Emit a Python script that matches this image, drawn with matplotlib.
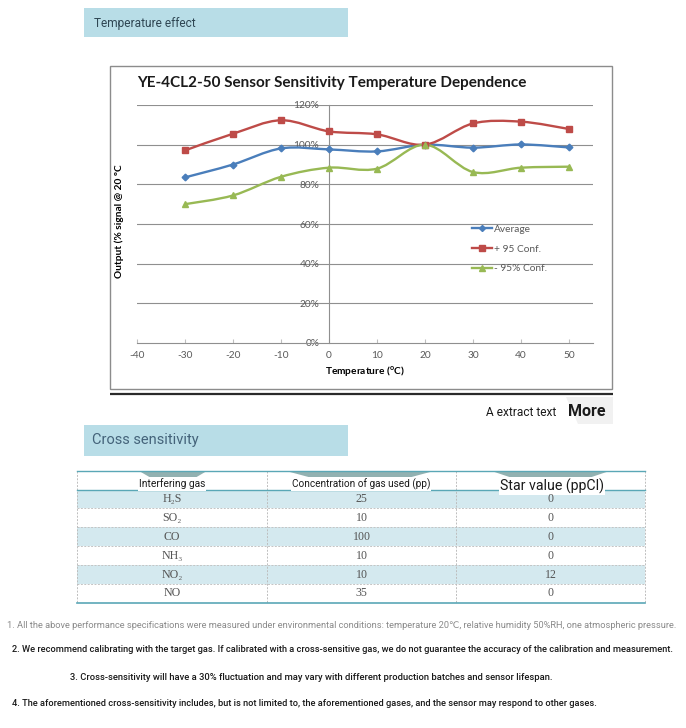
import matplotlib
matplotlib.use("Agg")
import matplotlib.pyplot as plt
from matplotlib.path import Path
from matplotlib.patches import PathPatch, Rectangle, Polygon
from matplotlib.lines import Line2D

plt.rcParams["axes.unicode_minus"] = False

# ---------------- data ----------------
temps = [-30, -20, -10, 0, 10, 20, 30, 40, 50]
average = [83.5, 90.0, 98.1, 97.6, 96.6, 100.0, 98.5, 100.1, 98.6]
upper_conf = [97.1, 105.5, 112.3, 106.7, 105.2, 100.0, 110.7, 111.6, 107.9]
lower_conf = [70.0, 74.4, 83.8, 88.4, 87.9, 100.0, 86.2, 88.4, 88.9]
series_labels = ["Average", "+ 95 Conf.", "- 95% Conf."]
x_ticks = [-40, -30, -20, -10, 0, 10, 20, 30, 40, 50]
y_ticks = [0, 20, 40, 60, 80, 100, 120]

gases = ["H\u2082S", "SO\u2082", "CO", "NH\u2083", "NO\u2082", "NO"]
gas_conc = ["25", "10", "100", "10", "10", "35"]
star_values = ["0", "0", "0", "0", "12", "0"]
table_headers = ["Interfering gas", "Concentration of gas used (pp)", "Star value (ppCl)"]

notes = [
    "1. All the above performance specifications were measured under environmental conditions: temperature 20\u2103, relative humidity 50%RH, one atmospheric pressure.",
    "2. We recommend calibrating with the target gas. If calibrated with a cross-sensitive gas, we do not guarantee the accuracy of the calibration and measurement.",
    "3. Cross-sensitivity will have a 30% fluctuation and may vary with different production batches and sensor lifespan.",
    "4. The aforementioned cross-sensitivity includes, but is not limited to, the aforementioned gases, and the sensor may respond to other gases.",
]

# ---------------- figure ----------------
W, H = 686, 728
fig = plt.figure(figsize=(W / 100, H / 100), dpi=100)
fig.patch.set_facecolor("white")
bg = fig.add_axes([0, 0, 1, 1])
bg.set_xlim(0, W)
bg.set_ylim(H, 0)
bg.axis("off")

NARROW = ["Roboto", "DejaVu Sans"]
renderer = fig.canvas.get_renderer()


def fit_text(s, x0, x1, y, ha="left", base=10, **kw):
    t = bg.text(x0 if ha == "left" else (x0 + x1) / 2, y, s, ha=ha, va="center",
                fontsize=base, **kw)
    bb = t.get_window_extent(renderer)
    t.set_fontsize(base * (x1 - x0) / bb.width)
    return t


# --- section header 1 ---
bg.add_patch(Rectangle((84, 8), 264, 29, facecolor="#b8dde7", edgecolor="none"))
bg.text(94, 23, "Temperature effect", ha="left", va="center", fontsize=8.6,
        family=NARROW, color="#2f4653")

# --- chart frame ---
bg.add_patch(Rectangle((109.5, 66), 502, 323, facecolor="white", edgecolor="#8c8c8c", lw=1))
bg.plot([110, 613], [394, 394], color="#2a2a2a", lw=1.6, solid_capstyle="butt")

# --- chart axes ---
ax = fig.add_axes([137 / W, 1 - 343 / H, 456 / W, 238 / H])
ax.set_facecolor("none")
ax.set_xlim(-40, 55)
ax.set_ylim(0, 120)
ax.set_xticks(x_ticks)
ax.set_yticks(y_ticks)
ax.set_yticklabels([f"{v}%" for v in y_ticks])
for v in y_ticks[1:]:
    ax.axhline(v, color="#8f8f8f", lw=0.8, zorder=0)
for s in ["top", "right"]:
    ax.spines[s].set_visible(False)
ax.spines["left"].set_position(("data", 0))
ax.spines["left"].set_color("#8f8f8f")
ax.spines["left"].set_linewidth(0.8)
ax.spines["bottom"].set_color("#8f8f8f")
ax.spines["bottom"].set_linewidth(0.8)
TICKFONT = ["Lato", "DejaVu Sans"]
ax.tick_params(axis="y", length=0, pad=7, labelsize=7.3, labelcolor="#595959")
ax.tick_params(axis="x", direction="in", length=3, color="#bfbfbf", pad=6,
               labelsize=7.3, labelcolor="#595959")
for lab in ax.get_xticklabels() + ax.get_yticklabels():
    lab.set_family(TICKFONT)

colors = ["#4a7ebb", "#be4b48", "#98b954"]
markers = ["D", "s", "^"]
msizes = [3.4, 4.6, 5.0]


def smooth_path(xs, ys):
    verts = [(xs[0], ys[0])]
    codes = [Path.MOVETO]
    n = len(xs)
    for i in range(n - 1):
        p0 = (xs[max(i - 1, 0)], ys[max(i - 1, 0)])
        p1 = (xs[i], ys[i])
        p2 = (xs[i + 1], ys[i + 1])
        p3 = (xs[min(i + 2, n - 1)], ys[min(i + 2, n - 1)])
        c1 = (p1[0] + (p2[0] - p0[0]) / 6, p1[1] + (p2[1] - p0[1]) / 6)
        c2 = (p2[0] - (p3[0] - p1[0]) / 6, p2[1] - (p3[1] - p1[1]) / 6)
        verts += [c1, c2, p2]
        codes += [Path.CURVE4] * 3
    return Path(verts, codes)


for ys, c, m, ms in [(average, colors[0], markers[0], msizes[0]),
                     (upper_conf, colors[1], markers[1], msizes[1]),
                     (lower_conf, colors[2], markers[2], msizes[2])]:
    ax.add_patch(PathPatch(smooth_path(temps, ys), facecolor="none", edgecolor=c,
                           lw=1.7, zorder=3, capstyle="round", joinstyle="round"))
    ax.plot(temps, ys, ls="none", marker=m, ms=ms, color=c, zorder=4)

handles = [Line2D([], [], color=c, marker=m, ms=ms * 0.9, lw=1.7)
           for c, m, ms in zip(colors, markers, msizes)]
leg = ax.legend(handles, series_labels, loc="center left",
                bbox_to_anchor=((472 - 137) / 456, (343 - 249) / 238),
                frameon=False, handlelength=2.0, handletextpad=0.15,
                labelspacing=1.05, borderpad=0, borderaxespad=0,
                prop={"family": TICKFONT, "size": 7.3})
for t in leg.get_texts():
    t.set_color("#595959")

ax.set_xlabel("Temperature ($^\\mathregular{o}$C)", family=TICKFONT, fontsize=7.3,
              fontweight="bold", labelpad=3)
ax.set_ylabel("Output (% signal @ 20 \u00baC", family=TICKFONT, fontsize=7.3,
              fontweight="bold")
ax.yaxis.set_label_coords((124 - 137) / 456, (343 - 221) / 238)

fit_text("YE-4CL2-50 Sensor Sensitivity Temperature Dependence", 137, 527, 83,
         family=TICKFONT, fontweight="bold", color="#1a1a1a")

# --- "A extract text  More" ---
bg.add_patch(Polygon([[566, 397], [613, 397], [613, 424], [578, 424]],
                     closed=True, facecolor="#f1f1f1", edgecolor="none"))
bg.text(556, 412, "A extract text", ha="right", va="center", fontsize=8.6,
        family=NARROW, color="#1a1a1a")
bg.text(568, 411, "More", ha="left", va="center", fontsize=11.5,
        family=NARROW, fontweight="bold", color="#1a1a1a")

# --- section header 2 ---
bg.add_patch(Rectangle((84, 425), 264, 31, facecolor="#b8dde7", edgecolor="none"))
bg.text(92, 440, "Cross sensitivity", ha="left", va="center", fontsize=10.5,
        family=NARROW, color="#44637a")

# --- table ---
col_edges = [77, 267, 456, 645]
col_centers = [(col_edges[i] + col_edges[i + 1]) / 2 for i in range(3)]
top, head_bot, row_h = 471, 489.5, 18.9
n_rows = len(gases)
teal = "#5aa7b6"
for i in range(n_rows):
    y0 = head_bot + i * row_h
    if i % 2 == 0:
        bg.add_patch(Rectangle((col_edges[0], y0), col_edges[-1] - col_edges[0], row_h,
                               facecolor="#d4e9ef", edgecolor="none", zorder=1))
    if i > 0:
        bg.plot([col_edges[0], col_edges[-1]], [y0, y0], color="#c4c4c4", lw=0.7,
                ls=(0, (2, 1.5)), zorder=2)
bottom = head_bot + n_rows * row_h
for xe in col_edges:
    bg.plot([xe, xe], [top, bottom], color="#bdbdbd", lw=0.7, ls=(0, (2, 1.5)), zorder=2)
bg.plot([col_edges[0], col_edges[-1]], [top, top], color=teal, lw=1.0, zorder=3)
bg.plot([col_edges[0], col_edges[-1]], [head_bot, head_bot], color=teal, lw=1.0, zorder=3)
bg.plot([col_edges[0], col_edges[-1]], [bottom, bottom], color=teal, lw=1.2, zorder=3)

# header tab shapes
for xa, xb in [(140, 206), (288, 432), (493, 608)]:
    w = xb - xa
    bg.add_patch(Polygon([[xa, top + 0.5], [xb, top + 0.5], [xb - 0.22 * w, top + 9],
                          [xa + 0.22 * w, top + 9]], closed=True,
                         facecolor="#86a9a9", edgecolor="none", alpha=0.9, zorder=2))

hdr_sizes = [7.4, 7.2, 10.2]
hdr_y = [484, 484, 486]
for xc, yy, fs, txt in zip([172, 361, 552], hdr_y, hdr_sizes, table_headers):
    t = bg.text(xc, yy, txt, ha="center", va="center", fontsize=fs, family=NARROW,
                color="#1a1a1a", zorder=5)
    t.set_bbox(dict(facecolor="white", edgecolor="none", pad=0.8))

SERIF = ["Liberation Serif", "DejaVu Serif"]
for i in range(n_rows):
    yc = head_bot + (i + 0.5) * row_h
    for j, txt in enumerate([gases[i], gas_conc[i], star_values[i]]):
        xc = col_centers[j] if j > 0 else 172
        bg.text(xc, yc, txt, ha="center", va="center", fontsize=8.6, family=SERIF,
                color="#555555", zorder=5)

# --- notes ---
note_pos = [(7, 679, 625, "#8a8a8a", "normal"),
            (12, 673, 650, "#1a1a1a", "medium"),
            (70, 548, 677, "#1a1a1a", "medium"),
            (12, 596, 703, "#1a1a1a", "medium")]
for s, (xa, xb, yy, col, fw) in zip(notes, note_pos):
    fit_text(s, xa, xb, yy, family=NARROW, color=col, fontweight=fw)

fig.savefig("out.png", dpi=100, facecolor="white")
